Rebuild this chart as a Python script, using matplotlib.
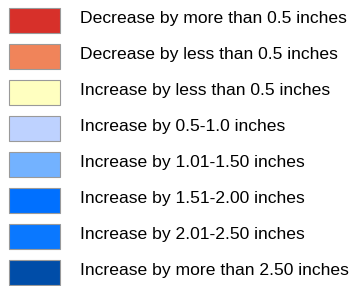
import numpy as np
import matplotlib.pyplot as plt

plt.rcParams['font.family'] = ['Liberation Sans', 'DejaVu Sans']

labels = ['Decrease by more than 0.5 inches',
          'Decrease by less than 0.5 inches',
          'Increase by less than 0.5 inches',
          'Increase by 0.5-1.0 inches',
          'Increase by 1.01-1.50 inches',
          'Increase by 1.51-2.00 inches',
          'Increase by 2.01-2.50 inches',
          'Increase by more than 2.50 inches']
colors = ['#D7302A', '#F0845A', '#FFFFC0', '#BED2FF',
          '#73B2FF', '#0070FF', '#0A78FF', '#004DA8']

fig = plt.figure(figsize=(3.55, 2.86), dpi=100)
ax = fig.add_axes([0, 0, 1, 1])
ax.axis('off')

rows = np.arange(len(labels))
ax.barh(rows, 51, left=9, height=25/36, color=colors,
        edgecolor='#9a9a9a', linewidth=0.8)
for i, lab in enumerate(labels):
    ax.text(80, i - 0.05, lab, va='center', ha='left', fontsize=12.6, color='black')

ax.set_xlim(0, 355)
ax.set_ylim((286 - 20.5) / 36, -20.5 / 36)
fig.savefig('out.png', dpi=100)
